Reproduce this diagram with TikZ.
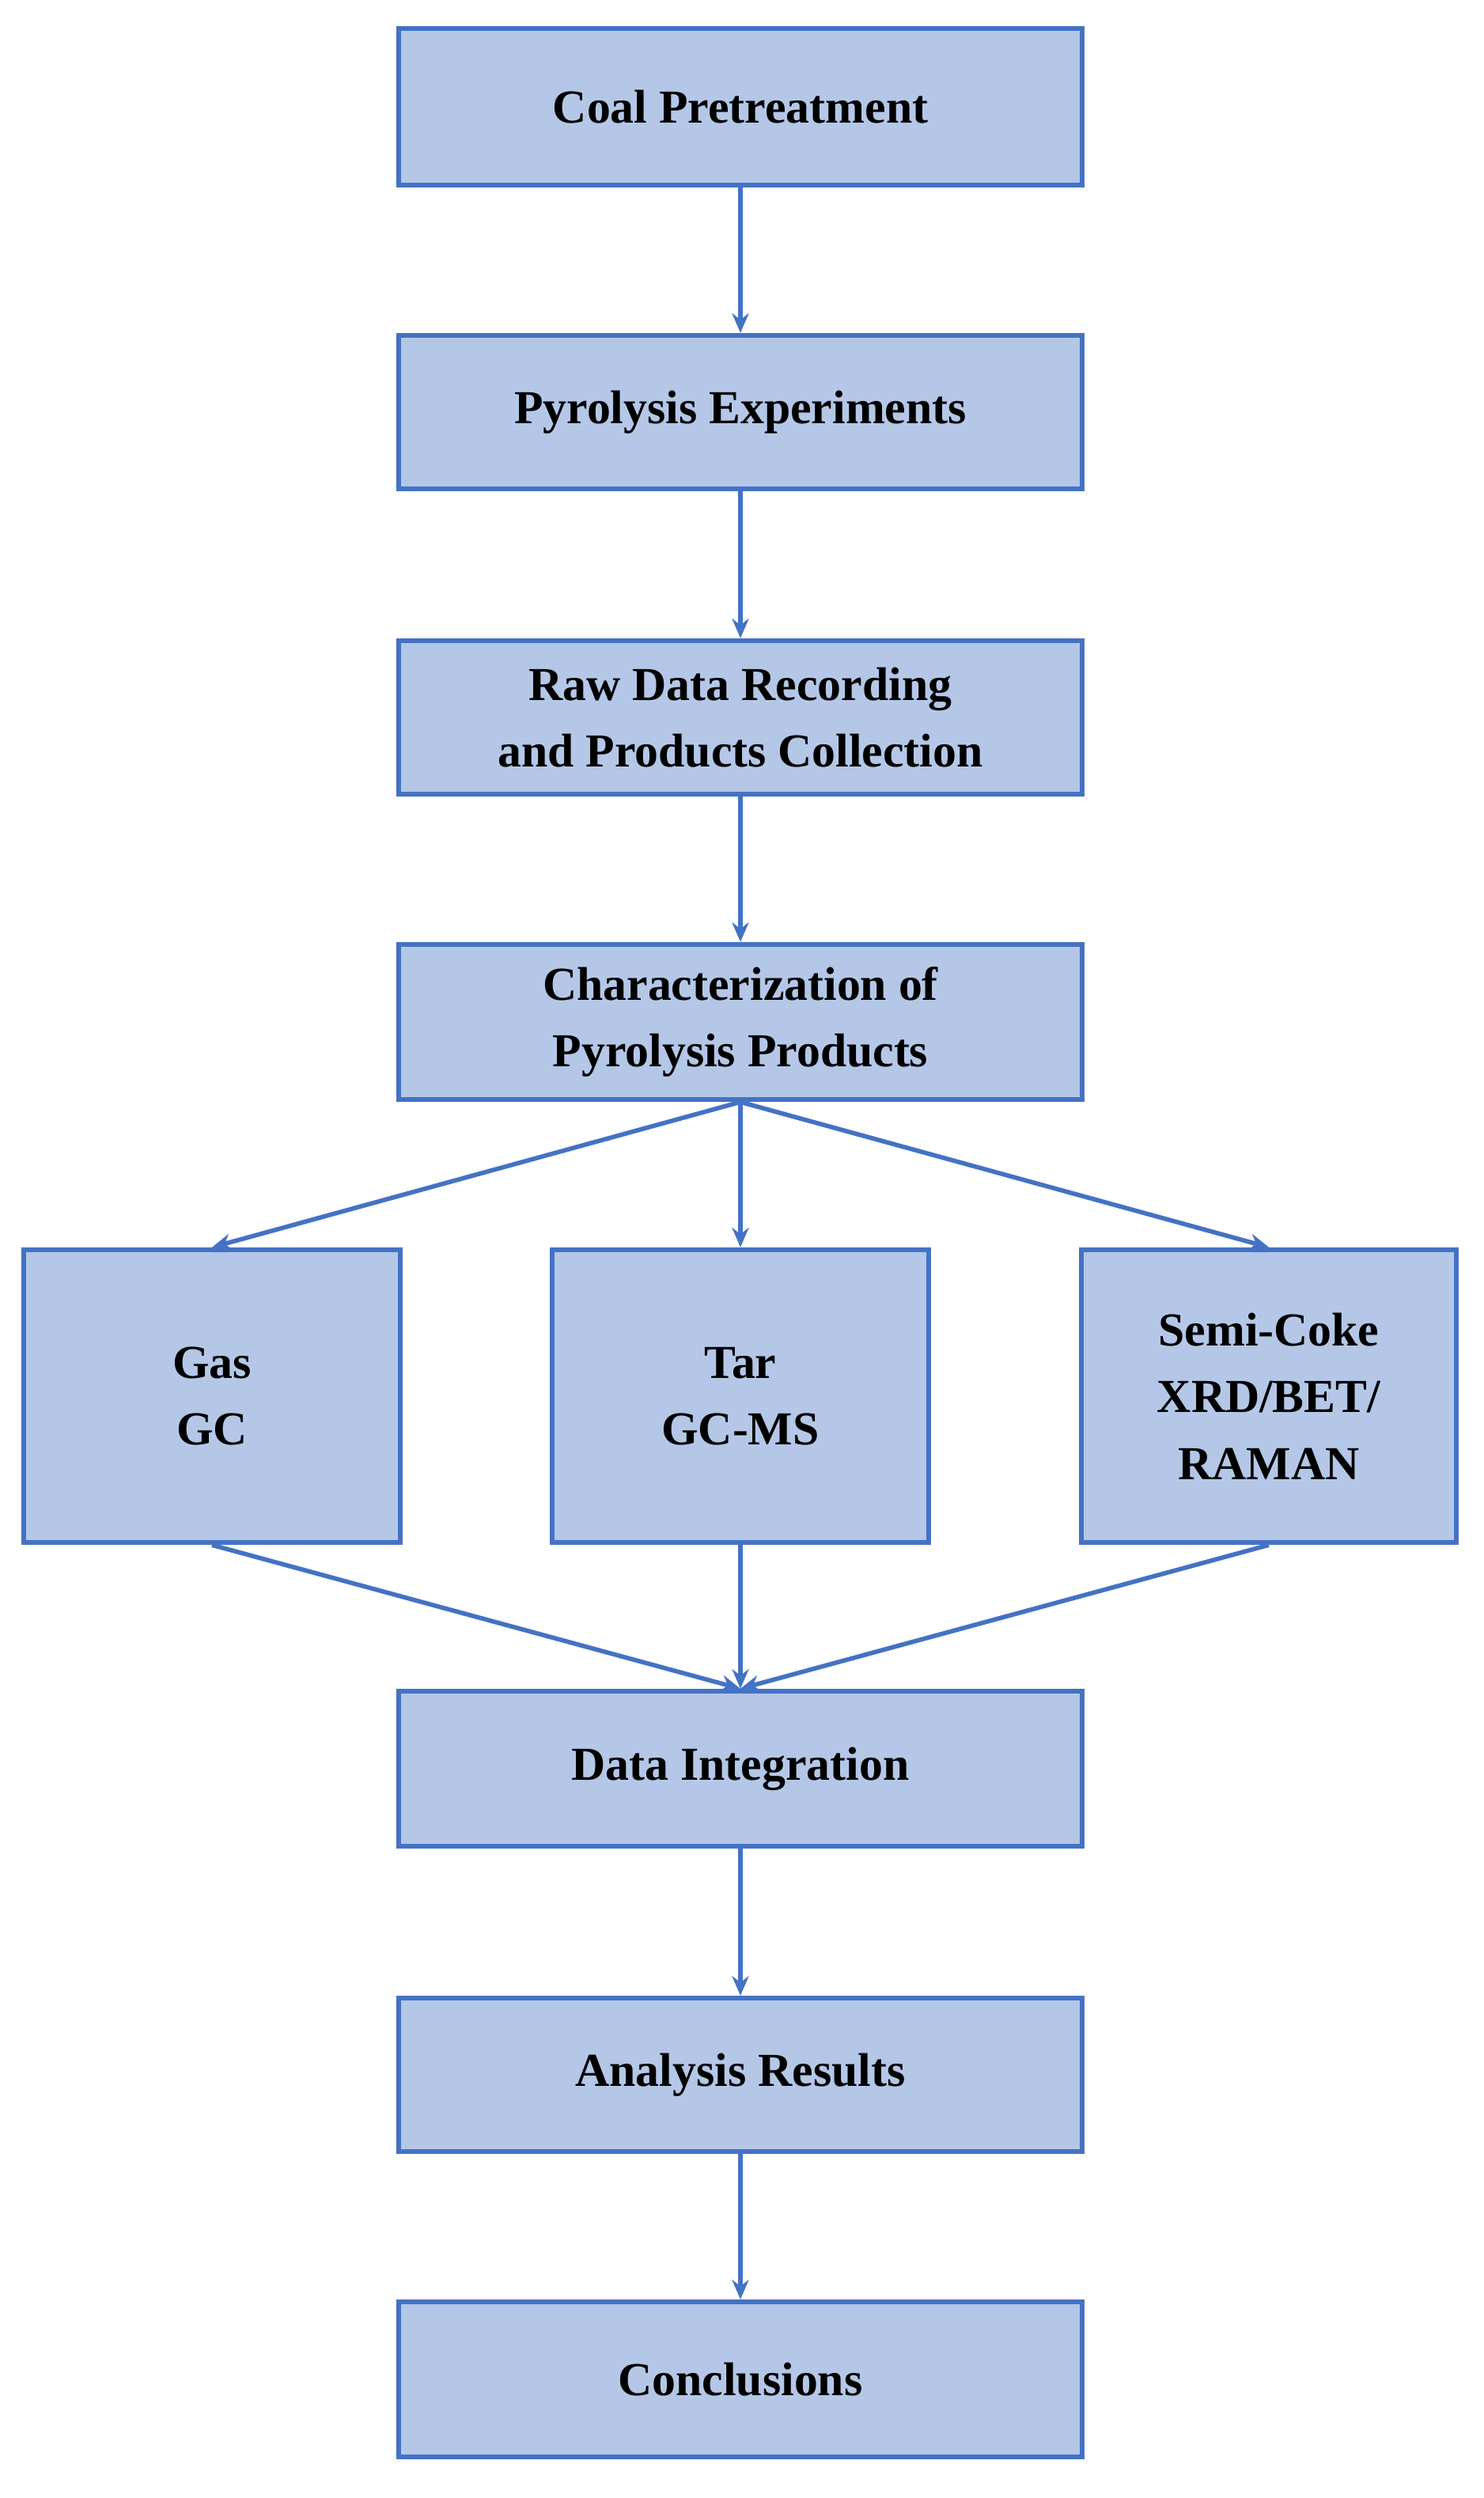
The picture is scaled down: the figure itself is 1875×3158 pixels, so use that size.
\documentclass[tikz,border=0pt]{standalone}
\usepackage{fontspec}
\setmainfont{Liberation Serif}
\usetikzlibrary{arrows.meta}
\definecolor{bfill}{RGB}{180,199,231}
\definecolor{bline}{RGB}{68,114,196}
\begin{document}
\begin{tikzpicture}[x=0.01cm,y=-0.01cm,
 box/.style={draw=bline,fill=bfill,line width=1.8pt,inner sep=0pt,align=center,font=\fontsize{17}{24}\selectfont\bfseries},
 arr/.style={draw=bline,line width=1.6pt,-{Stealth[length=7pt,width=6pt]}}]
\useasboundingbox (0,0) rectangle (1875,3158);
\newcommand{\bx}[6]{\node[box,minimum width=#4*0.01cm,minimum height=#5*0.01cm] (#1) at (#2,#3) {#6};}
\bx{a}{936}{135}{864}{198}{Coal Pretreatment}
\bx{b}{936}{521}{864}{194}{Pyrolysis Experiments}
\bx{c}{936}{907}{864}{194}{Raw Data Recording\\and Products Collection}
\bx{d}{936}{1292}{864}{196}{Characterization of\\Pyrolysis Products}
\bx{g}{268}{1765}{476}{370}{Gas\\GC}
\bx{t}{936}{1765}{476}{370}{Tar\\GC-MS}
\bx{s}{1604}{1765}{474}{370}{Semi-Coke\\XRD/BET/\\RAMAN}
\bx{e}{936}{2236}{864}{196}{Data Integration}
\bx{f}{936}{2623}{864}{194}{Analysis Results}
\bx{h}{936}{3008}{864}{196}{Conclusions}
\draw[arr] (a.south) -- (b.north);
\draw[arr] (b.south) -- (c.north);
\draw[arr] (c.south) -- (d.north);
\draw[arr] (d.south) -- (g.north);
\draw[arr] (d.south) -- (t.north);
\draw[arr] (d.south) -- (s.north);
\draw[arr] (g.south) -- (e.north);
\draw[arr] (t.south) -- (e.north);
\draw[arr] (s.south) -- (e.north);
\draw[arr] (e.south) -- (f.north);
\draw[arr] (f.south) -- (h.north);
\end{tikzpicture}
\end{document}
